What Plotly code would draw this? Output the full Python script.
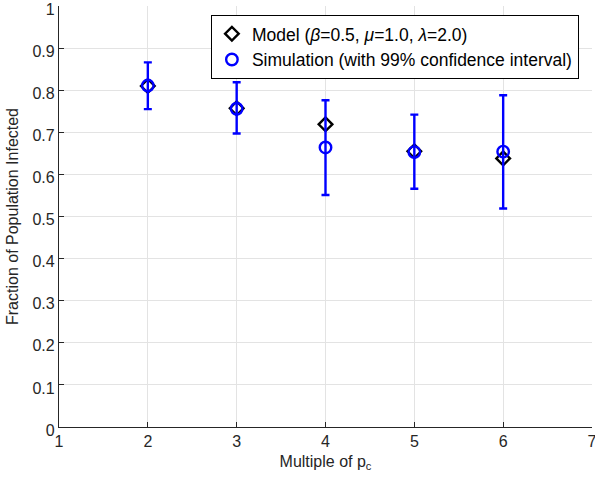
import plotly.graph_objects as go

# Multiples of the critical probability p_c
multiples = [2, 3, 4, 5, 6]

# Model prediction
model_frac = [0.810, 0.757, 0.719, 0.655, 0.638]

# Simulation mean and 99% confidence interval bounds
sim_frac = [0.811, 0.756, 0.664, 0.653, 0.654]
sim_upper = [0.866, 0.819, 0.776, 0.742, 0.788]
sim_lower = [0.755, 0.697, 0.551, 0.566, 0.519]

err_plus = [u - m for u, m in zip(sim_upper, sim_frac)]
err_minus = [m - l for m, l in zip(sim_frac, sim_lower)]

x_ticks = [1, 2, 3, 4, 5, 6, 7]
y_ticks = [i / 10 for i in range(11)]
y_ticktext = ["0", "0.1", "0.2", "0.3", "0.4", "0.5", "0.6", "0.7", "0.8", "0.9", "1"]

axis_col = "#262626"
grid_col = "#e3e3e3"
font_family = "Liberation Sans, Arial, sans-serif"

fig = go.Figure()

fig.add_trace(go.Scatter(
    x=multiples, y=model_frac, mode="markers",
    name="Model (<i>β</i>=0.5, <i>μ</i>=1.0, <i>λ</i>=2.0)",
    marker=dict(symbol="diamond-open", size=10.5, color="black",
                line=dict(width=2.4, color="black")),
))

fig.add_trace(go.Scatter(
    x=multiples, y=sim_frac, mode="markers",
    name="Simulation (with 99% confidence interval)",
    marker=dict(symbol="circle-open", size=11.5, color="#0000ff",
                line=dict(width=2.4, color="#0000ff")),
    error_y=dict(type="data", symmetric=False, array=err_plus,
                 arrayminus=err_minus, color="#0000ff",
                 thickness=2.4, width=4),
))

fig.update_layout(
    width=595, height=485,
    margin=dict(l=59, r=3, t=6, b=58, autoexpand=False),
    paper_bgcolor="white", plot_bgcolor="white",
    font=dict(family=font_family, size=16, color=axis_col),
    showlegend=True,
    legend=dict(
        x=0.285, y=0.979, xanchor="left", yanchor="top",
        bgcolor="white", bordercolor="black", borderwidth=1,
        font=dict(family=font_family, size=17.5, color="black"),
        itemwidth=30, tracegroupgap=0,
    ),
    xaxis=dict(
        range=[1, 7], tickvals=x_ticks,
        showgrid=True, gridcolor=grid_col, gridwidth=1,
        showline=True, linecolor=axis_col, linewidth=1.3, mirror=False,
        ticks="inside", ticklen=5, tickcolor=axis_col,
        zeroline=False, ticklabeloverflow="allow", automargin=False,
        title=dict(text="Multiple of p<sub>c</sub>", standoff=6,
                   font=dict(size=16, color=axis_col)),
        tickfont=dict(size=16, color=axis_col),
    ),
    yaxis=dict(
        range=[0, 1], tickvals=y_ticks, ticktext=y_ticktext,
        showgrid=True, gridcolor=grid_col, gridwidth=1,
        showline=True, linecolor=axis_col, linewidth=1.3, mirror=False,
        ticks="inside", ticklen=5, tickcolor=axis_col,
        zeroline=False, ticklabeloverflow="allow", automargin=False,
        ticklabelshift=3,
        title=dict(text="Fraction of Population Infected", standoff=9,
                   font=dict(size=16, color=axis_col)),
        tickfont=dict(size=16, color=axis_col),
    ),
)

fig.write_html("out.html")
